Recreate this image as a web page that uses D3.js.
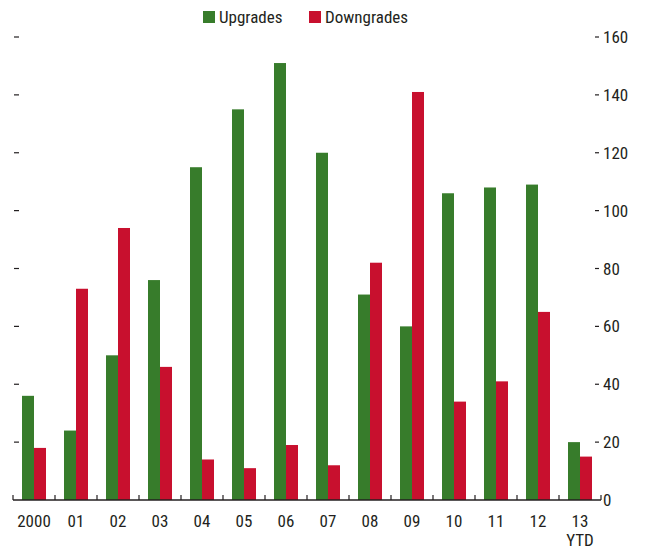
<!DOCTYPE html>
<html>
<head>
<meta charset="utf-8">
<script src="https://cdn.jsdelivr.net/npm/d3@7"></script>
<style>
  body { margin: 0; background: #fff; }
  text { font-family: "Liberation Sans Narrow", "Arial Narrow", "Roboto Condensed", Roboto, sans-serif; fill: #231f20; }
</style>
</head>
<body>
<svg id="chart" width="647" height="550"></svg>
<script>
  var years = ['2000', '01', '02', '03', '04', '05', '06', '07', '08', '09', '10', '11', '12', '13'];
  var upgrades = [36, 24, 50, 76, 115, 135, 151, 120, 71, 60, 106, 108, 109, 20];
  var downgrades = [18, 73, 94, 46, 14, 11, 19, 12, 82, 141, 34, 41, 65, 15];
  var yTicks = [0, 20, 40, 60, 80, 100, 120, 140, 160];
  var seriesNames = ['Upgrades', 'Downgrades'];
  var colors = ['#377c2b', '#c8102e'];

  var svg = d3.select('#chart');
  var plot = {left: 13, right: 601, top: 37, bottom: 500};

  var x = d3.scaleBand().domain(years).range([plot.left, plot.right]);
  var inner = d3.scaleBand().domain(seriesNames).range([9, x.bandwidth() - 9]);
  var y = d3.scaleLinear().domain([0, 160]).range([plot.bottom, plot.top]);

  var rows = years.map(function(yr, i) {
    return {year: yr, values: [upgrades[i], downgrades[i]]};
  });

  var groups = svg.append('g').selectAll('g')
    .data(rows)
    .enter().append('g')
      .attr('transform', function(d) { return 'translate(' + x(d.year) + ',0)'; });

  groups.selectAll('rect')
    .data(function(d) { return d.values.map(function(v, j) { return {name: seriesNames[j], value: v, color: colors[j]}; }); })
    .enter().append('rect')
      .attr('x', function(d) { return inner(d.name); })
      .attr('width', inner.bandwidth())
      .attr('y', function(d) { return y(d.value); })
      .attr('height', function(d) { return plot.bottom - y(d.value); })
      .attr('fill', function(d) { return d.color; });

  // left ticks (no labels)
  svg.append('g').selectAll('line')
    .data(yTicks.slice(1))
    .enter().append('line')
      .attr('x1', 14).attr('x2', 19)
      .attr('y1', function(d) { return y(d); })
      .attr('y2', function(d) { return y(d); })
      .attr('stroke', '#231f20').attr('stroke-width', 1.2);

  // right ticks with labels
  var rightAxis = svg.append('g');
  rightAxis.selectAll('line')
    .data(yTicks.slice(1))
    .enter().append('line')
      .attr('x1', 595).attr('x2', 599)
      .attr('y1', function(d) { return y(d); })
      .attr('y2', function(d) { return y(d); })
      .attr('stroke', '#231f20').attr('stroke-width', 1.2);
  rightAxis.selectAll('text')
    .data(yTicks)
    .enter().append('text')
      .attr('x', 603)
      .attr('y', function(d) { return y(d); })
      .attr('dy', '0.36em')
      .attr('font-size', 17)
      .text(function(d) { return d; });

  // x axis
  var xAxis = svg.append('g');
  xAxis.append('line')
    .attr('x1', plot.left).attr('x2', plot.right)
    .attr('y1', plot.bottom).attr('y2', plot.bottom)
    .attr('stroke', '#231f20').attr('stroke-width', 1.5);
  xAxis.selectAll('line.tick')
    .data(years.concat(['end']))
    .enter().append('line')
      .attr('class', 'tick')
      .attr('x1', function(d) { return d === 'end' ? plot.right : x(d); })
      .attr('x2', function(d) { return d === 'end' ? plot.right : x(d); })
      .attr('y1', plot.bottom).attr('y2', plot.bottom - 5)
      .attr('stroke', '#231f20').attr('stroke-width', 1.2);
  xAxis.selectAll('text')
    .data(years)
    .enter().append('text')
      .attr('x', function(d) { return x(d) + x.bandwidth() / 2; })
      .attr('y', 527)
      .attr('text-anchor', 'middle')
      .attr('font-size', 17)
      .text(function(d) { return d; });
  xAxis.append('text')
    .attr('x', x('13') + x.bandwidth() / 2)
    .attr('y', 546)
    .attr('text-anchor', 'middle')
    .attr('font-size', 17)
    .text('YTD');

  // legend
  var legend = svg.append('g');
  var legendX = [203, 309];
  seriesNames.forEach(function(name, i) {
    legend.append('rect')
      .attr('x', legendX[i]).attr('y', 11)
      .attr('width', 12).attr('height', 12)
      .attr('fill', colors[i]);
    legend.append('text')
      .attr('x', legendX[i] + 16).attr('y', 23)
      .attr('font-size', 17)
      .text(name);
  });
</script>
</body>
</html>
